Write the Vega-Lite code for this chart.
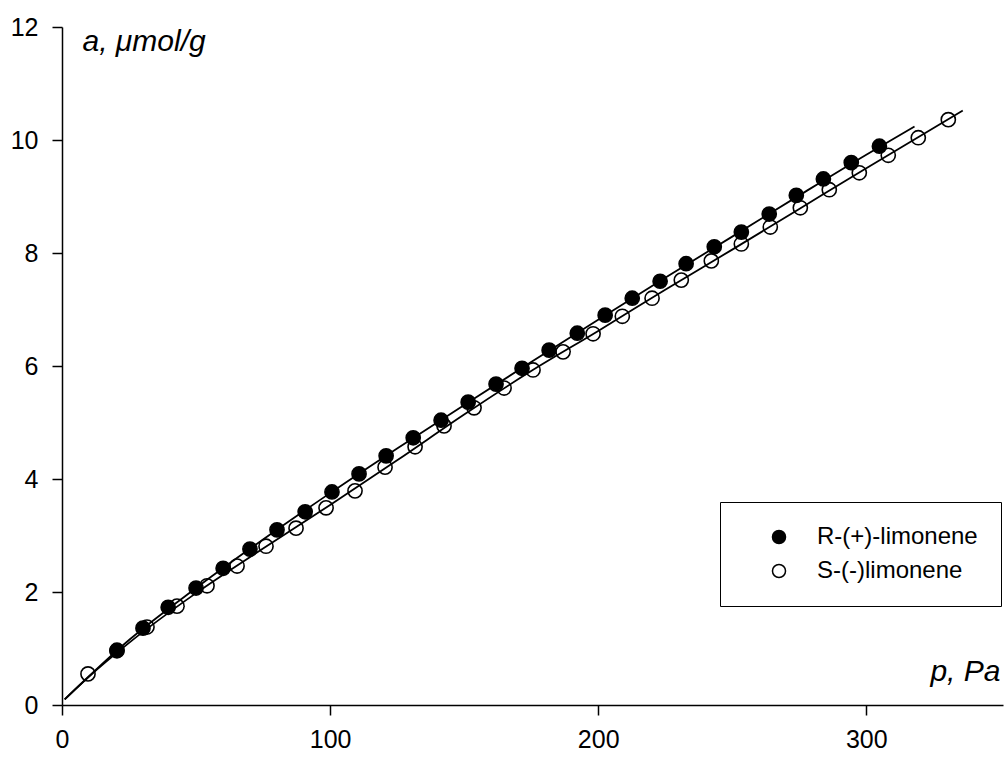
{
  "$schema": "https://vega.github.io/schema/vega-lite/v6.json",
  "width": 941,
  "height": 678,
  "autosize": {"type": "none"},
  "padding": {"left": 62, "top": 27, "right": 5, "bottom": 53},
  "background": "white",
  "config": {
    "view": {"stroke": null},
    "font": "Liberation Sans",
    "axis": {
      "grid": false,
      "domainColor": "black",
      "domainWidth": 1.5,
      "tickColor": "black",
      "tickWidth": 1.5,
      "tickSize": 10,
      "labelFlush": false,
      "labelFont": "Liberation Sans",
      "labelFontSize": 25,
      "labelColor": "black",
      "titleFont": "Liberation Sans",
      "titleFontSize": 30,
      "titleFontStyle": "italic",
      "titleFontWeight": "normal",
      "titleColor": "black"
    }
  },
  "datasets": {
    "pts": [
      {"series": "R-(+)-limonene", "p": 20.5, "a": 0.97},
      {"series": "R-(+)-limonene", "p": 30.2, "a": 1.36},
      {"series": "R-(+)-limonene", "p": 39.6, "a": 1.73},
      {"series": "R-(+)-limonene", "p": 50.0, "a": 2.07},
      {"series": "R-(+)-limonene", "p": 60.1, "a": 2.42},
      {"series": "R-(+)-limonene", "p": 70.1, "a": 2.76},
      {"series": "R-(+)-limonene", "p": 80.2, "a": 3.10},
      {"series": "R-(+)-limonene", "p": 90.7, "a": 3.42},
      {"series": "R-(+)-limonene", "p": 100.7, "a": 3.77},
      {"series": "R-(+)-limonene", "p": 110.8, "a": 4.09},
      {"series": "R-(+)-limonene", "p": 120.9, "a": 4.41},
      {"series": "R-(+)-limonene", "p": 131.0, "a": 4.73},
      {"series": "R-(+)-limonene", "p": 141.4, "a": 5.04},
      {"series": "R-(+)-limonene", "p": 151.5, "a": 5.36},
      {"series": "R-(+)-limonene", "p": 161.9, "a": 5.68},
      {"series": "R-(+)-limonene", "p": 171.6, "a": 5.96},
      {"series": "R-(+)-limonene", "p": 181.7, "a": 6.28},
      {"series": "R-(+)-limonene", "p": 192.2, "a": 6.58},
      {"series": "R-(+)-limonene", "p": 202.6, "a": 6.90},
      {"series": "R-(+)-limonene", "p": 212.7, "a": 7.20},
      {"series": "R-(+)-limonene", "p": 223.1, "a": 7.50},
      {"series": "R-(+)-limonene", "p": 232.8, "a": 7.81},
      {"series": "R-(+)-limonene", "p": 243.3, "a": 8.11},
      {"series": "R-(+)-limonene", "p": 253.4, "a": 8.37},
      {"series": "R-(+)-limonene", "p": 263.8, "a": 8.69},
      {"series": "R-(+)-limonene", "p": 273.9, "a": 9.02},
      {"series": "R-(+)-limonene", "p": 284.0, "a": 9.31},
      {"series": "R-(+)-limonene", "p": 294.4, "a": 9.60},
      {"series": "R-(+)-limonene", "p": 304.9, "a": 9.89},
      {"series": "S-(-)limonene", "p": 9.7, "a": 0.55},
      {"series": "S-(-)limonene", "p": 20.5, "a": 0.96},
      {"series": "S-(-)limonene", "p": 31.7, "a": 1.38},
      {"series": "S-(-)limonene", "p": 42.9, "a": 1.75},
      {"series": "S-(-)limonene", "p": 54.1, "a": 2.11},
      {"series": "S-(-)limonene", "p": 65.3, "a": 2.46},
      {"series": "S-(-)limonene", "p": 76.1, "a": 2.81},
      {"series": "S-(-)limonene", "p": 87.3, "a": 3.13},
      {"series": "S-(-)limonene", "p": 98.5, "a": 3.49},
      {"series": "S-(-)limonene", "p": 109.3, "a": 3.79},
      {"series": "S-(-)limonene", "p": 120.5, "a": 4.21},
      {"series": "S-(-)limonene", "p": 131.7, "a": 4.57},
      {"series": "S-(-)limonene", "p": 142.5, "a": 4.94},
      {"series": "S-(-)limonene", "p": 153.7, "a": 5.26},
      {"series": "S-(-)limonene", "p": 164.9, "a": 5.61},
      {"series": "S-(-)limonene", "p": 175.7, "a": 5.93},
      {"series": "S-(-)limonene", "p": 186.9, "a": 6.25},
      {"series": "S-(-)limonene", "p": 198.1, "a": 6.57},
      {"series": "S-(-)limonene", "p": 209.0, "a": 6.88},
      {"series": "S-(-)limonene", "p": 220.1, "a": 7.20},
      {"series": "S-(-)limonene", "p": 231.0, "a": 7.52},
      {"series": "S-(-)limonene", "p": 242.2, "a": 7.86},
      {"series": "S-(-)limonene", "p": 253.4, "a": 8.16},
      {"series": "S-(-)limonene", "p": 264.2, "a": 8.46},
      {"series": "S-(-)limonene", "p": 275.4, "a": 8.80},
      {"series": "S-(-)limonene", "p": 286.2, "a": 9.12},
      {"series": "S-(-)limonene", "p": 297.4, "a": 9.42},
      {"series": "S-(-)limonene", "p": 308.2, "a": 9.73},
      {"series": "S-(-)limonene", "p": 319.4, "a": 10.04},
      {"series": "S-(-)limonene", "p": 330.6, "a": 10.36}
    ],
    "fit": [
      {"series": "R", "p": 1, "a": 0.10},
      {"series": "R", "p": 25, "a": 1.15},
      {"series": "R", "p": 50, "a": 2.07},
      {"series": "R", "p": 75, "a": 2.93},
      {"series": "R", "p": 100, "a": 3.75},
      {"series": "R", "p": 125, "a": 4.54},
      {"series": "R", "p": 150, "a": 5.31},
      {"series": "R", "p": 175, "a": 6.07},
      {"series": "R", "p": 200, "a": 6.82},
      {"series": "R", "p": 225, "a": 7.56},
      {"series": "R", "p": 250, "a": 8.29},
      {"series": "R", "p": 275, "a": 9.02},
      {"series": "R", "p": 300, "a": 9.74},
      {"series": "R", "p": 318, "a": 10.24},
      {"series": "S", "p": 1, "a": 0.10},
      {"series": "S", "p": 10, "a": 0.50},
      {"series": "S", "p": 25, "a": 1.10},
      {"series": "S", "p": 50, "a": 1.98},
      {"series": "S", "p": 75, "a": 2.77},
      {"series": "S", "p": 100, "a": 3.54},
      {"series": "S", "p": 125, "a": 4.33},
      {"series": "S", "p": 150, "a": 5.14},
      {"series": "S", "p": 175, "a": 5.91},
      {"series": "S", "p": 200, "a": 6.62},
      {"series": "S", "p": 225, "a": 7.35},
      {"series": "S", "p": 250, "a": 8.06},
      {"series": "S", "p": 275, "a": 8.78},
      {"series": "S", "p": 300, "a": 9.50},
      {"series": "S", "p": 336, "a": 10.52}
    ]
  },
  "encoding": {
    "x": {
      "field": "p",
      "type": "quantitative",
      "scale": {"domain": [0, 351], "nice": false, "zero": false},
      "axis": {
        "values": [0, 100, 200, 300],
        "title": "p, Pa",
        "titleAlign": "right",
        "titleBaseline": "alphabetic",
        "titleX": 938,
        "titleY": -25,
        "labelPadding": 12
      }
    },
    "y": {
      "field": "a",
      "type": "quantitative",
      "scale": {"domain": [0, 12], "nice": false},
      "axis": {
        "values": [0, 2, 4, 6, 8, 10, 12],
        "title": "a, μmol/g",
        "titleAngle": 0,
        "titleAlign": "left",
        "titleBaseline": "alphabetic",
        "titleX": 20,
        "titleY": 23,
        "labelPadding": 14
      }
    }
  },
  "layer": [
    {
      "data": {"name": "fit"},
      "mark": {"type": "line", "color": "black", "strokeWidth": 1.8, "interpolate": "monotone"},
      "encoding": {"detail": {"field": "series"}}
    },
    {
      "data": {"name": "pts"},
      "mark": {"type": "point", "shape": "circle", "filled": true, "size": 200, "stroke": "black", "strokeWidth": 1.6, "opacity": 1},
      "encoding": {
        "fill": {
          "field": "series",
          "type": "nominal",
          "scale": {"domain": ["R-(+)-limonene", "S-(-)limonene"], "range": ["black", "transparent"]},
          "legend": {
            "title": null,
            "orient": "none",
            "legendX": 658,
            "legendY": 475,
            "direction": "vertical",
            "fillColor": "white",
            "strokeColor": "black",
            "padding": 23,
            "symbolOffset": 24,
            "symbolType": "circle",
            "symbolSize": 170,
            "symbolStrokeColor": "black",
            "symbolStrokeWidth": 1.5,
            "labelFont": "Liberation Sans",
            "labelFontSize": 24,
            "labelColor": "black",
            "labelLimit": 400,
            "labelOffset": 26,
            "rowPadding": 10,
            "encode": {"legend": {"update": {"strokeWidth": {"value": 1.5}}}}
          }
        }
      }
    }
  ]
}
